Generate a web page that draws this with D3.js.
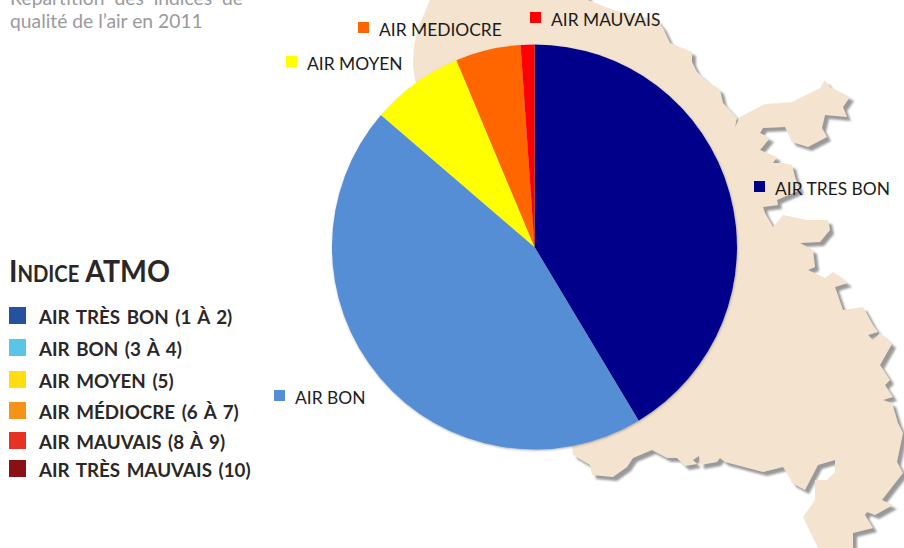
<!DOCTYPE html>
<meta charset="utf-8">
<style>
    html, body { margin: 0; padding: 0; background: #fff; }
    svg { display: block; }
    text { font-family: Lato, sans-serif; }
    .titre { fill: #9a9a9c; font-size: 19.3px; }
    .legende-titre { fill: #2b2727; font-size: 31px; font-weight: 700; font-variant: small-caps; }
    .legende text { fill: #2b2727; font-size: 18.8px; font-weight: 700; word-spacing: 2px; }
    .etiquette text { fill: #1c1c1c; font-size: 17.4px; }
</style>
<svg width="904" height="548"></svg>
<script src="https://d3js.org/d3.v7.min.js"></script>
<script>

    // pie values (% of days in 2011)
    var categories = ["AIR TRES BON", "AIR BON", "AIR MOYEN", "AIR MEDIOCRE", "AIR MAUVAIS"];
    var values = [41.4, 44.9, 7.4, 5.2, 1.1];
    var sliceColors = ["#00008b", "#558ed5", "#ffff00", "#ff6600", "#ff0000"];

    var legendLabels = ["AIR TRÈS BON (1 À 2)", "AIR BON (3 À 4)", "AIR MOYEN (5)",
        "AIR MÉDIOCRE (6 À 7)", "AIR MAUVAIS (8 À 9)", "AIR TRÈS MAUVAIS (10)"];
    var legendColors = ["#23539f", "#5bc5e8", "#ffdd0e", "#f59318", "#e63222", "#8a1018"];

    var titleLines = ["Répartition des indices de", "qualité de l’air en 2011"];

    var svg = d3.select("svg");

    // label layout, same order as categories
    var labelX = [754, 274, 286, 358, 530];
    var labelY = [181, 390, 56, 22, 12];
    var legendBaseline = [324, 356, 388, 419, 449, 477];

    var defs = svg.append("defs");
    defs.append("filter").attr("id", "ombre-carte")
        .attr("x", "-5%").attr("y", "-5%").attr("width", "115%").attr("height", "115%")
        .append("feDropShadow")
        .attr("dx", 4).attr("dy", 4).attr("stdDeviation", 1.2)
        .attr("flood-color", "#999").attr("flood-opacity", 1);
    defs.append("filter").attr("id", "ombre-pie")
        .attr("x", "-5%").attr("y", "-5%").attr("width", "110%").attr("height", "110%")
        .append("feDropShadow")
        .attr("dx", 0.5).attr("dy", 1).attr("stdDeviation", 0.8)
        .attr("flood-color", "#666").attr("flood-opacity", 0.5);

    // background map, decoration only
    var carte = "M433,-8 L587,-8 L588,0 L613,10 L657,20 L663,28 L670,43 L692,52 L692,62 L697,72 L708,82 L720,90 L723,103 L737,118 L735,127 L740,117 " +
        "L765,104 L792,102 L820,88 L825,80 L830,87 L850,97 L843,107 L847,117 L825,115 L822,128 L827,137 L808,147 L792,142 L785,127 L763,128 L760,133 L770,138 " +
        "L760,150 L777,157 L773,163 L783,163 L792,165 L795,177 L800,190 L777,200 L778,205 L763,207 L765,213 L773,227 L783,215 L807,220 L828,220 L830,230 L820,242 L800,243 " +
        "L813,250 L815,267 L808,270 L825,278 L833,272 L848,283 L835,287 L843,310 L863,307 L873,325 L878,332 L868,335 L873,340 L880,333 L892,344 L880,365 L890,380 L885,385 " +
        "L893,397 L883,400 L892,403 L898,423 L903,433 L897,462 L903,473 L892,487 L882,500 L893,505 L875,515 L867,512 L865,515 L873,528 L853,533 L853,556 L822,556 " +
        "L803,517 L815,500 L815,480 L827,480 L835,472 L835,460 L818,465 L805,490 L792,483 L790,478 L783,467 L763,472 L725,462 L720,458 L717,462 L700,465 L699,456 " +
        "L693,460 L697,464 L685,466 L677,458 L667,458 L652,450 L633,458 L627,467 L613,477 L592,475 L590,465 L573,455 L572,447 L500,300 L415,80 L413,65 L414,45 L419,25 L425,12 Z";

    svg.append("path")
        .attr("d", carte)
        .attr("fill", "#f3e3cf")
        .attr("filter", "url(#ombre-carte)");

    // pie
    var pie = d3.pie().sort(null)(values);
    var arc = d3.arc().innerRadius(0).outerRadius(202.5);

    svg.append("g")
        .attr("transform", "translate(534.5,247)")
        .attr("filter", "url(#ombre-pie)")
        .selectAll("path")
        .data(pie)
        .enter().append("path")
        .attr("d", arc)
        .attr("fill", function (d, i) { return sliceColors[i]; });

    // labels next to the pie
    var etiquette = svg.append("g").attr("class", "etiquette")
        .selectAll("g")
        .data(categories)
        .enter().append("g")
        .attr("transform", function (d, i) { return "translate(" + labelX[i] + "," + labelY[i] + ")"; });

    etiquette.append("rect")
        .attr("width", 11)
        .attr("height", 11)
        .attr("fill", function (d, i) { return sliceColors[i]; });

    etiquette.append("text")
        .attr("x", 21)
        .attr("y", 14)
        .text(function (d) { return d; });

    // title, cut by the top of the frame
    svg.selectAll("text.titre")
        .data(titleLines)
        .enter().append("text")
        .attr("class", "titre")
        .attr("x", 10)
        .attr("y", function (d, i) { return 5 + i * 23; })
        .attr("word-spacing", function (d, i) { return i === 0 ? 5 : 0; })
        .text(function (d) { return d; });

    // ATMO legend
    svg.append("text")
        .attr("class", "legende-titre")
        .attr("x", 9)
        .attr("y", 282)
        .attr("textLength", 161)
        .attr("lengthAdjust", "spacingAndGlyphs")
        .text("Indice ATMO");

    var legende = svg.append("g").attr("class", "legende")
        .selectAll("g")
        .data(legendLabels)
        .enter().append("g");

    legende.append("rect")
        .attr("x", 9)
        .attr("y", function (d, i) { return legendBaseline[i] - 17; })
        .attr("width", 17)
        .attr("height", 17)
        .attr("fill", function (d, i) { return legendColors[i]; });

    legende.append("text")
        .attr("x", 39)
        .attr("y", function (d, i) { return legendBaseline[i]; })
        .text(function (d) { return d; });

</script>
